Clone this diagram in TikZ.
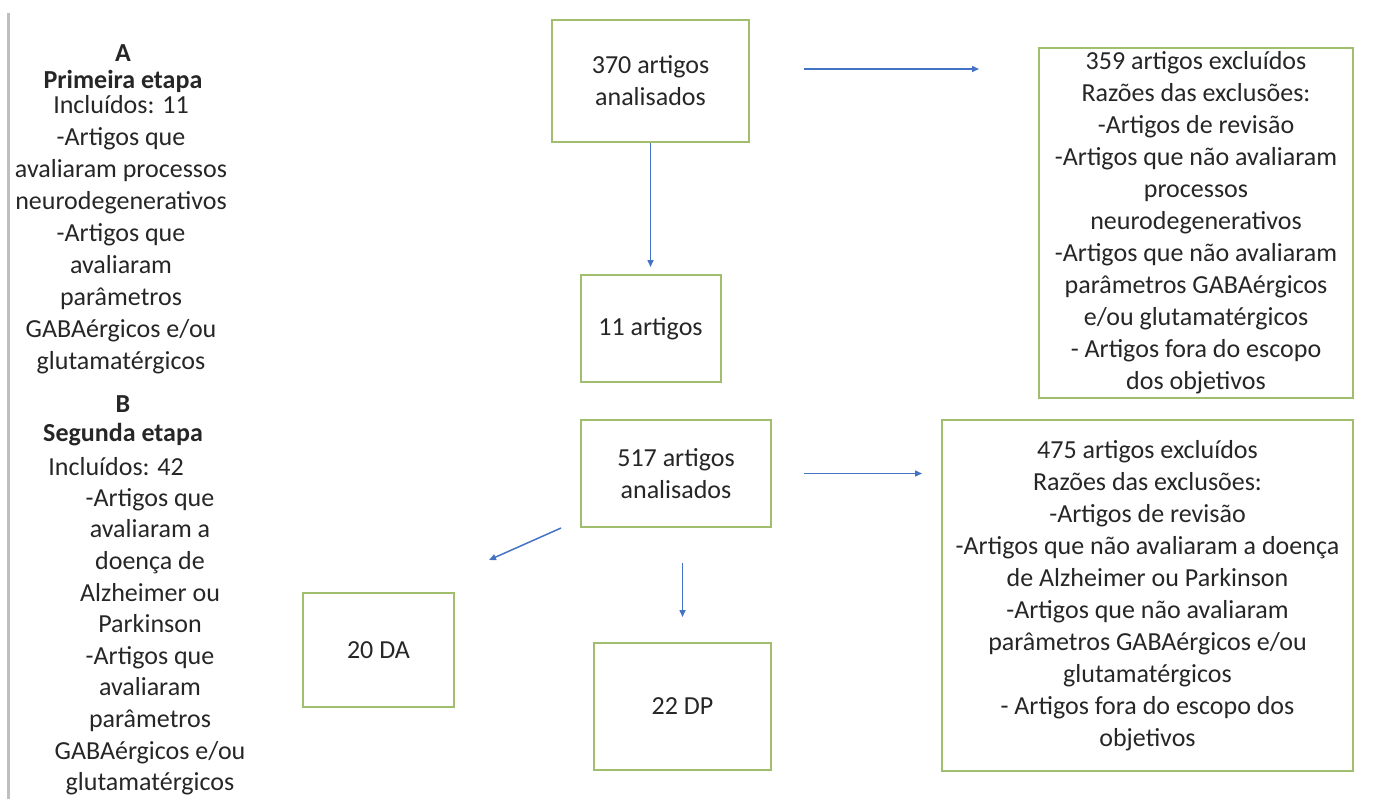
\documentclass[tikz,border=0pt]{standalone}
\usepackage{fontspec}
\setmainfont{Carlito}
\usetikzlibrary{arrows.meta,positioning,calc}
\definecolor{boxgreen}{RGB}{160,190,110}
\definecolor{flowblue}{RGB}{68,114,196}
\definecolor{txtgray}{RGB}{38,38,38}
\tikzset{
  stepbox/.style={draw=boxgreen, line width=1pt, align=center, inner sep=0pt, text=txtgray},
  flow/.style={draw=flowblue, line width=0.75pt, -{Triangle[length=3.5pt,width=3pt]}},
  note/.style={align=center, inner sep=0pt, text=txtgray}
}

\begin{document}
\begin{tikzpicture}[x=0.5pt, y=-0.5pt, font=\fontsize{13}{16}\selectfont]
  \useasboundingbox (0,0) rectangle (1376,799);
  % left margin rule
  \draw[gray!50, line width=1.5pt] (8,13) -- (8,799);

  % Stage A text
  \node[note, font=\fontsize{13}{13.5}\selectfont\bfseries, anchor=north] (titleA) at (123,44) {A\\Primeira etapa};
  \node[note, anchor=north] (listA) at (121,95) {Incluídos: 11\\-Artigos que\\avaliaram processos\\neurodegenerativos\\-Artigos que\\avaliaram\\parâmetros\\GABAérgicos e/ou\\glutamatérgicos};

  % Stage B text
  \node[note, font=\fontsize{13}{14.5}\selectfont\bfseries, anchor=north] (titleB) at (123,395) {B\\Segunda etapa};
  \node[note, anchor=west] (inclB) at (48,467) {Incluídos: 42};
  \node[note, font=\fontsize{13}{15.8}\selectfont, anchor=north] (listB) at (150,488) {-Artigos que\\avaliaram a\\doença de\\Alzheimer ou\\Parkinson\\-Artigos que\\avaliaram\\parâmetros\\GABAérgicos e/ou\\glutamatérgicos};

  % Nodes
  \node[stepbox, minimum width=98.5pt, minimum height=61pt] (n370) at (650.5,81) {370 artigos\\analisados};
  \node[stepbox, minimum width=70pt, minimum height=53.5pt, below=65.5pt of n370] (n11) {11 artigos};
  \node[stepbox, minimum width=157pt, minimum height=175pt] (ex359) at (1196,223) {359 artigos excluídos\\Razões das exclusões:\\-Artigos de revisão\\-Artigos que não avaliaram\\processos\\neurodegenerativos\\-Artigos que não avaliaram\\parâmetros GABAérgicos\\e/ou glutamatérgicos\\- Artigos fora do escopo\\dos objetivos};

  \node[stepbox, minimum width=95pt, minimum height=53.5pt] (n517) at (676,473.5) {517 artigos\\analisados};
  \node[stepbox, minimum width=75.5pt, minimum height=57pt] (nDA) at (378.5,650) {20 DA};
  \node[stepbox, minimum width=88.5pt, minimum height=63.5pt] (nDP) at (682.5,706.5) {22 DP};
  \node[stepbox, minimum width=205.5pt, minimum height=175.5pt] (ex475) at (1147.5,595.5) {475 artigos excluídos\\Razões das exclusões:\\-Artigos de revisão\\-Artigos que não avaliaram a doença\\de Alzheimer ou Parkinson\\-Artigos que não avaliaram\\parâmetros GABAérgicos e/ou\\glutamatérgicos\\- Artigos fora do escopo dos\\objetivos};

  % Arrows
  \draw[flow, shorten >=3.5pt] (n370) -- (n11);
  \draw[flow, shorten <=27pt, shorten >=29.5pt] ([yshift=6pt]n370.east) -- ([yshift=6pt]n370.east -| ex359.west);
  \draw[flow, shorten <=16pt, shorten >=9.5pt] (n517.east) -- (n517.east -| ex475.west);
  \coordinate (daTip) at (489,560);
  \draw[flow] ([xshift=-9.5pt]n517.south west) -- (daTip);
  \draw[flow, shorten <=17.5pt, shorten >=12.5pt] (nDP.north |- n517.south) -- (nDP.north);
\end{tikzpicture}
\end{document}
